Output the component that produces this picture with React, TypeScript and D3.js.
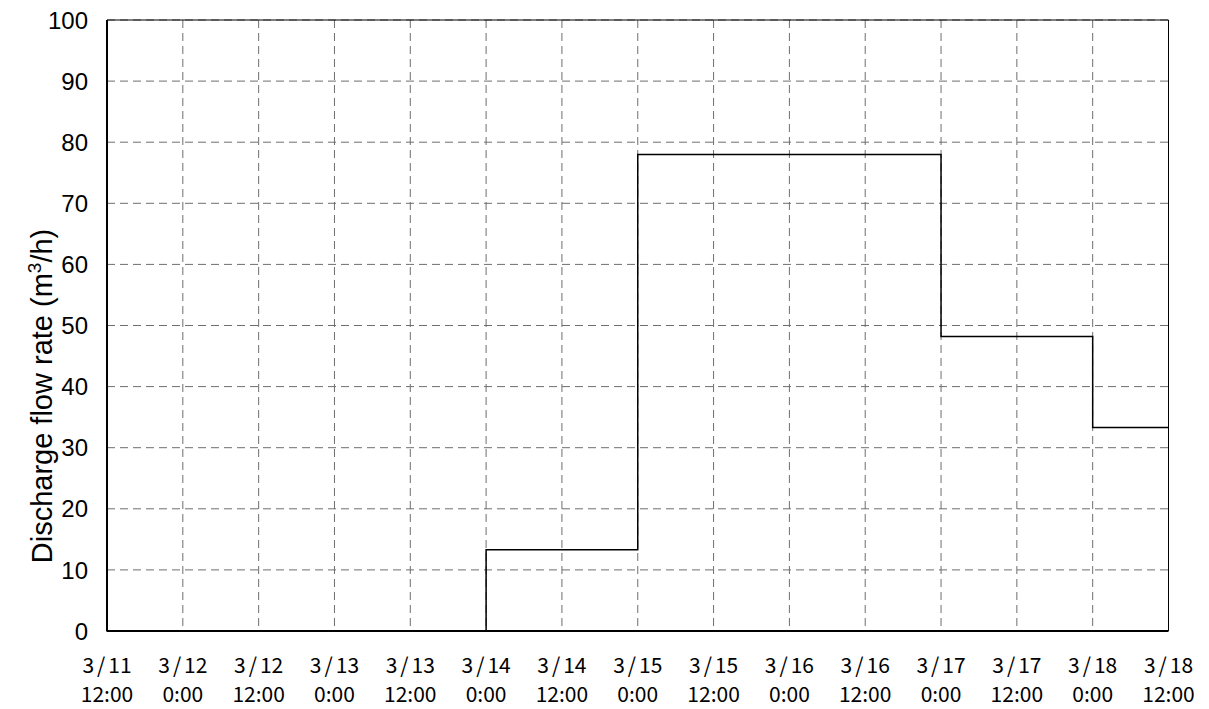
import React from "react";
import * as d3 from "d3";

const tickTimes = [
  "2011-03-11T12:00", "2011-03-12T00:00", "2011-03-12T12:00", "2011-03-13T00:00",
  "2011-03-13T12:00", "2011-03-14T00:00", "2011-03-14T12:00", "2011-03-15T00:00",
  "2011-03-15T12:00", "2011-03-16T00:00", "2011-03-16T12:00", "2011-03-17T00:00",
  "2011-03-17T12:00", "2011-03-18T00:00", "2011-03-18T12:00",
];
const tickLine1 = ["3/11", "3/12", "3/12", "3/13", "3/13", "3/14", "3/14", "3/15", "3/15", "3/16", "3/16", "3/17", "3/17", "3/18", "3/18"];
const tickLine2 = ["12:00", "0:00", "12:00", "0:00", "12:00", "0:00", "12:00", "0:00", "12:00", "0:00", "12:00", "0:00", "12:00", "0:00", "12:00"];

const stepTimes = ["2011-03-11T12:00", "2011-03-14T00:00", "2011-03-15T00:00", "2011-03-17T00:00", "2011-03-18T00:00", "2011-03-18T12:00"];
const stepValues = [0, 13.3, 78, 48.2, 33.3, 33.3];

const yTicks = [0, 10, 20, 30, 40, 50, 60, 70, 80, 90, 100];

export default function App() {
  const W = 1209, H = 709;
  const left = 107, right = 1168.5, top = 20, bottom = 631;
  const parse = (s: string) => new Date(s);
  const x = d3.scaleTime().domain([parse(tickTimes[0]), parse(tickTimes[tickTimes.length - 1])]).range([left, right]);
  const y = d3.scaleLinear().domain([0, 100]).range([bottom, top]);
  const data = stepTimes.map((t, i) => ({ t: parse(t), v: stepValues[i] }));
  const line = d3.line<{ t: Date; v: number }>().x(d => x(d.t)).y(d => y(d.v)).curve(d3.curveStepAfter);
  const grid = "#6e6e6e";
  return (
    <svg width={W} height={H} style={{ position: "absolute", left: 0, top: 0, background: "#fff" }}>
      <rect x={0} y={0} width={W} height={H} fill="#fff" />
      {yTicks.map(v => (
        <line key={"hy" + v} x1={left} x2={right} y1={y(v)} y2={y(v)} stroke={grid} strokeWidth={1} strokeDasharray="8,5" />
      ))}
      {tickTimes.map(t => (
        <line key={"vx" + t} x1={x(parse(t))} x2={x(parse(t))} y1={top} y2={bottom} stroke={grid} strokeWidth={1} strokeDasharray="8,5" />
      ))}
      <line x1={left} x2={right} y1={top} y2={top} stroke="#000" strokeWidth={1} />
      <line x1={right} x2={right} y1={top} y2={bottom} stroke="#000" strokeWidth={1} />
      <path d={line(data) || ""} fill="none" stroke="#000" strokeWidth={1.5} />
      <line x1={left} x2={left} y1={top} y2={bottom + 0.5} stroke="#000" strokeWidth={2} />
      <line x1={left} x2={right} y1={bottom} y2={bottom} stroke="#000" strokeWidth={2} />
      {yTicks.map(v => (
        <text key={"ty" + v} x={88} y={y(v)} dy="0.36em" textAnchor="end" fontFamily="'Liberation Sans', Arial, sans-serif" fontSize={24} fill="#000">{v}</text>
      ))}
      {tickTimes.map((t, i) => {
        const parts = tickLine1[i].split("/");
        return (
          <g key={"tx" + t} fontFamily="'Noto Sans CJK JP', sans-serif" fontSize={21} fill="#000" textAnchor="middle">
            <text x={x(parse(t))} y={672.5}>
              {parts[0]}<tspan dx={3}>/</tspan><tspan dx={3}>{parts[1]}</tspan>
            </text>
            <text x={x(parse(t))} y={701.5}>{tickLine2[i]}</text>
          </g>
        );
      })}
      <text transform={`translate(52,396) rotate(-90)`} textAnchor="middle" fontFamily="'Liberation Sans', Arial, sans-serif" fontSize={29} fill="#000">
        Discharge flow rate (m<tspan dy="-11" fontSize={19}>3</tspan><tspan dy="11">/h)</tspan>
      </text>
    </svg>
  );
}
